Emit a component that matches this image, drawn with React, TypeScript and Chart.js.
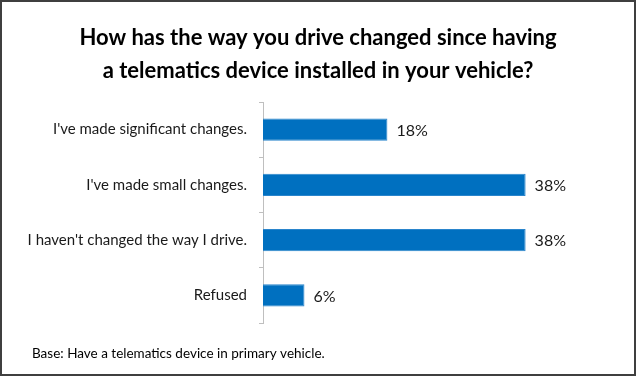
import React, { useEffect, useRef } from "react";
import { Chart, registerables } from "chart.js";

Chart.register(...registerables);

const TITLE_LINES = [
  "How has the way you drive changed since having",
  "a telematics device installed in your vehicle?",
];
const FOOTNOTE = "Base: Have a telematics device in primary vehicle.";
const CATEGORIES = [
  "I've made significant changes.",
  "I've made small changes.",
  "I haven't changed the way I drive.",
  "Refused",
];
const VALUES = [18, 38, 38, 6];

const FONT = "Lato, 'Open Sans', sans-serif";

const textPlugin = {
  id: "textPlugin",
  afterDraw(chart: any) {
    const ctx = chart.ctx;
    ctx.save();
    ctx.fillStyle = "#000";
    ctx.font = `bold 22px ${FONT}`;
    ctx.textAlign = "center";
    ctx.textBaseline = "alphabetic";
    ctx.fillText(TITLE_LINES[0], chart.width / 2, 43);
    ctx.fillText(TITLE_LINES[1], chart.width / 2, 76);
    ctx.font = `13.5px ${FONT}`;
    ctx.textAlign = "left";
    ctx.textBaseline = "middle";
    ctx.fillText(FOOTNOTE, 30, 352);
    // data labels
    const meta = chart.getDatasetMeta(0);
    ctx.font = `16px ${FONT}`;
    ctx.fillStyle = "#1a1a1a";
    meta.data.forEach((bar: any, i: number) => {
      ctx.fillText(`${VALUES[i]}%`, bar.x + 9, bar.y + 1);
    });
    ctx.restore();
  },
};

export default function App() {
  const ref = useRef<HTMLCanvasElement>(null);
  useEffect(() => {
    if (!ref.current) return;
    const chart = new Chart(ref.current, {
      type: "bar",
      data: {
        labels: CATEGORIES,
        datasets: [
          {
            data: VALUES,
            backgroundColor: "#0070C0",
            borderColor: "#2A85CC",
            borderWidth: 1,
            categoryPercentage: 1,
            barPercentage: 0.4,
          },
        ],
      },
      options: {
        indexAxis: "y",
        animation: false,
        responsive: false,
        maintainAspectRatio: false,
        layout: { padding: { top: 100, bottom: 51, left: 0, right: 60 } },
        plugins: {
          legend: { display: false },
          tooltip: { enabled: false },
          title: { display: false },
        },
        scales: {
          x: { display: false, min: 0, max: 45 },
          y: {
            afterFit(scale: any) {
              scale.width = 261;
            },
            grid: {
              drawOnChartArea: false,
              drawTicks: true,
              tickLength: 4,
              color: "#BFBFBF",
              offset: true,
            },
            border: { display: true, color: "#BFBFBF", width: 1 },
            ticks: {
              padding: 12,
              color: "#1a1a1a",
              font: { family: FONT, size: 15 },
            },
          },
        },
      },
      plugins: [textPlugin],
    });
    return () => chart.destroy();
  }, []);
  return (
    <div
      style={{
        position: "absolute",
        left: 0,
        top: 0,
        width: 636,
        height: 376,
        boxSizing: "border-box",
        border: "2px solid #3F3F3F",
        background: "#fff",
      }}
    >
      <canvas ref={ref} width={632} height={372} style={{ display: "block" }} />
    </div>
  );
}
